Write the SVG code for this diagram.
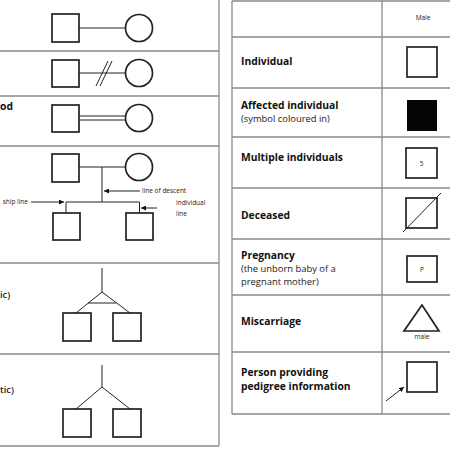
<svg xmlns="http://www.w3.org/2000/svg" width="450" height="450" viewBox="0 0 450 450">
<style>
.grid{stroke:#8a8a8a;stroke-width:1.3;fill:none}
.sym{stroke:#222;stroke-width:1.7;fill:#fff}
.ln{stroke:#222;stroke-width:1;fill:none}
.lab{font-family:"Open Sans","Noto Sans",sans-serif;font-weight:bold;font-size:10.3px;fill:#111}
.sub{font-family:"Open Sans","Noto Sans",sans-serif;font-size:9.4px;fill:#222}
.tiny{font-family:"Open Sans","Noto Sans",sans-serif;font-size:6.5px;fill:#222}
</style>
<defs>
<marker id="ah" viewBox="0 0 10 10" refX="10" refY="5" markerWidth="5" markerHeight="5" orient="auto">
<path d="M0,0 L10,5 L0,10 z" fill="#111"/>
</marker>
</defs>
<rect width="450" height="450" fill="#fff"/>
<!-- left table -->
<g id="left-table" class="grid">
<line x1="219" y1="0" x2="219" y2="446"/>
<line x1="0" y1="51" x2="219" y2="51"/>
<line x1="0" y1="96" x2="219" y2="96"/>
<line x1="0" y1="146" x2="219" y2="146"/>
<line x1="0" y1="263" x2="219" y2="263"/>
<line x1="0" y1="354" x2="219" y2="354"/>
<line x1="0" y1="446" x2="219" y2="446"/>
</g>
<g id="left-labels">
<text class="lab" x="0" y="110">od</text>
<text class="sub" x="0" y="298" font-weight="600" font-size="9">ic)</text>
<text class="sub" x="0" y="393" font-weight="600" font-size="9">tic)</text>
</g>
<g id="row1">
<rect class="sym" x="52" y="14" width="27" height="28"/>
<circle class="sym" cx="139" cy="28" r="13.5"/>
</g>
<g id="row2">
<rect class="sym" x="52" y="60" width="27" height="27"/>
<circle class="sym" cx="139" cy="73" r="13.5"/>
</g>
<g id="row3">
<rect class="sym" x="52" y="105" width="27" height="27"/>
<circle class="sym" cx="139" cy="118" r="13.5"/>
</g>
<g id="row4">
<rect class="sym" x="52" y="154" width="27" height="28"/>
<circle class="sym" cx="139" cy="167" r="13.5"/>
<rect class="sym" x="53" y="213" width="27" height="27"/>
<rect class="sym" x="126" y="213" width="27" height="27"/>
<text class="tiny" x="142" y="193">line of descent</text>
<text class="tiny" x="28" y="204" text-anchor="end">ship line</text>
<text class="tiny" x="176" y="205">individual</text>
<text class="tiny" x="176" y="216">line</text>
</g>
<g id="row5">
<rect class="sym" x="63" y="313" width="28" height="28"/>
<rect class="sym" x="113" y="313" width="28" height="28"/>
</g>
<g id="row6">
<rect class="sym" x="63" y="409" width="28" height="28"/>
<rect class="sym" x="113" y="409" width="28" height="28"/>
</g>
<g id="connectors">
<line class="ln" x1="79" y1="28" x2="125.5" y2="28"/>
<line class="ln" x1="79" y1="73" x2="125.5" y2="73"/>
<line class="ln" x1="96" y1="86" x2="108" y2="61" stroke="#666"/>
<line class="ln" x1="100" y1="86" x2="112" y2="61" stroke="#666"/>
<line class="ln" x1="79" y1="116" x2="126" y2="116"/>
<line class="ln" x1="79" y1="120" x2="126" y2="120"/>
<line class="ln" x1="79" y1="167" x2="125.5" y2="167"/>
<line class="ln" x1="102" y1="167" x2="102" y2="202"/>
<line class="ln" x1="66" y1="202" x2="139.5" y2="202"/>
<line class="ln" x1="66" y1="202" x2="66" y2="213"/>
<line class="ln" x1="139.5" y1="202" x2="139.5" y2="213"/>
<line class="ln" x1="140" y1="191" x2="104" y2="191" stroke="#555" marker-end="url(#ah)"/>
<line class="ln" x1="31" y1="202" x2="64" y2="202" stroke="#555" marker-end="url(#ah)"/>
<line class="ln" x1="157" y1="208" x2="141" y2="208" stroke="#555" marker-end="url(#ah)"/>
<line class="ln" x1="102" y1="268" x2="102" y2="292" stroke="#555"/>
<line class="ln" x1="102" y1="292" x2="76" y2="313" stroke="#555"/>
<line class="ln" x1="102" y1="292" x2="130" y2="313" stroke="#555"/>
<line class="ln" x1="88" y1="303" x2="116" y2="303" stroke="#999"/>
<line class="ln" x1="102" y1="365" x2="102" y2="387" stroke="#555"/>
<line class="ln" x1="102" y1="387" x2="76" y2="409" stroke="#555"/>
<line class="ln" x1="102" y1="387" x2="130" y2="409" stroke="#555"/>
<line class="ln" x1="386" y1="401" x2="404" y2="387" stroke="#444" marker-end="url(#ah)"/>
</g>
<!-- right table -->
<g id="right-table" class="grid">
<line x1="232" y1="1" x2="450" y2="1"/>
<line x1="232" y1="1" x2="232" y2="414"/>
<line x1="382" y1="1" x2="382" y2="414"/>
<line x1="232" y1="37" x2="450" y2="37"/>
<line x1="232" y1="88" x2="450" y2="88"/>
<line x1="232" y1="137" x2="450" y2="137"/>
<line x1="232" y1="188" x2="450" y2="188"/>
<line x1="232" y1="239" x2="450" y2="239"/>
<line x1="232" y1="295" x2="450" y2="295"/>
<line x1="232" y1="352" x2="450" y2="352"/>
<line x1="232" y1="414" x2="450" y2="414"/>
</g>
<g id="header"><text class="tiny" x="423" y="20" text-anchor="middle" font-size="7">Male</text></g>
<g id="individual">
<text class="lab" x="241" y="65">Individual</text>
<rect class="sym" x="407" y="47" width="30" height="30"/>
</g>
<g id="affected">
<text class="lab" x="241" y="109">Affected individual</text>
<text class="sub" x="241" y="122">(symbol coloured in)</text>
<rect x="407" y="100" width="30" height="31" fill="#050505"/>
</g>
<g id="multiple">
<text class="lab" x="241" y="161">Multiple individuals</text>
<rect class="sym" x="406" y="148" width="31" height="30"/>
<text class="tiny" x="421.5" y="166" text-anchor="middle" font-size="7">5</text>
</g>
<g id="deceased">
<text class="lab" x="241" y="219">Deceased</text>
<rect class="sym" x="406" y="198" width="31" height="30"/>
<line class="ln" x1="403" y1="232" x2="441" y2="193"/>
</g>
<g id="pregnancy">
<text class="lab" x="241" y="259">Pregnancy</text>
<text class="sub" x="241" y="272">(the unborn baby of a</text>
<text class="sub" x="241" y="285">pregnant mother)</text>
<rect class="sym" x="407" y="256" width="30" height="26"/>
<text class="tiny" x="422" y="272" text-anchor="middle" font-size="7">P</text>
</g>
<g id="miscarriage">
<text class="lab" x="241" y="325">Miscarriage</text>
<polygon class="sym" points="422,305 404,331 439,331"/>
<text class="tiny" x="422" y="339" text-anchor="middle">male</text>
</g>
<g id="informant">
<text class="lab" x="241" y="376">Person providing</text>
<text class="lab" x="241" y="390">pedigree information</text>
<rect class="sym" x="407" y="362" width="30" height="30"/>
</g>
</svg>
